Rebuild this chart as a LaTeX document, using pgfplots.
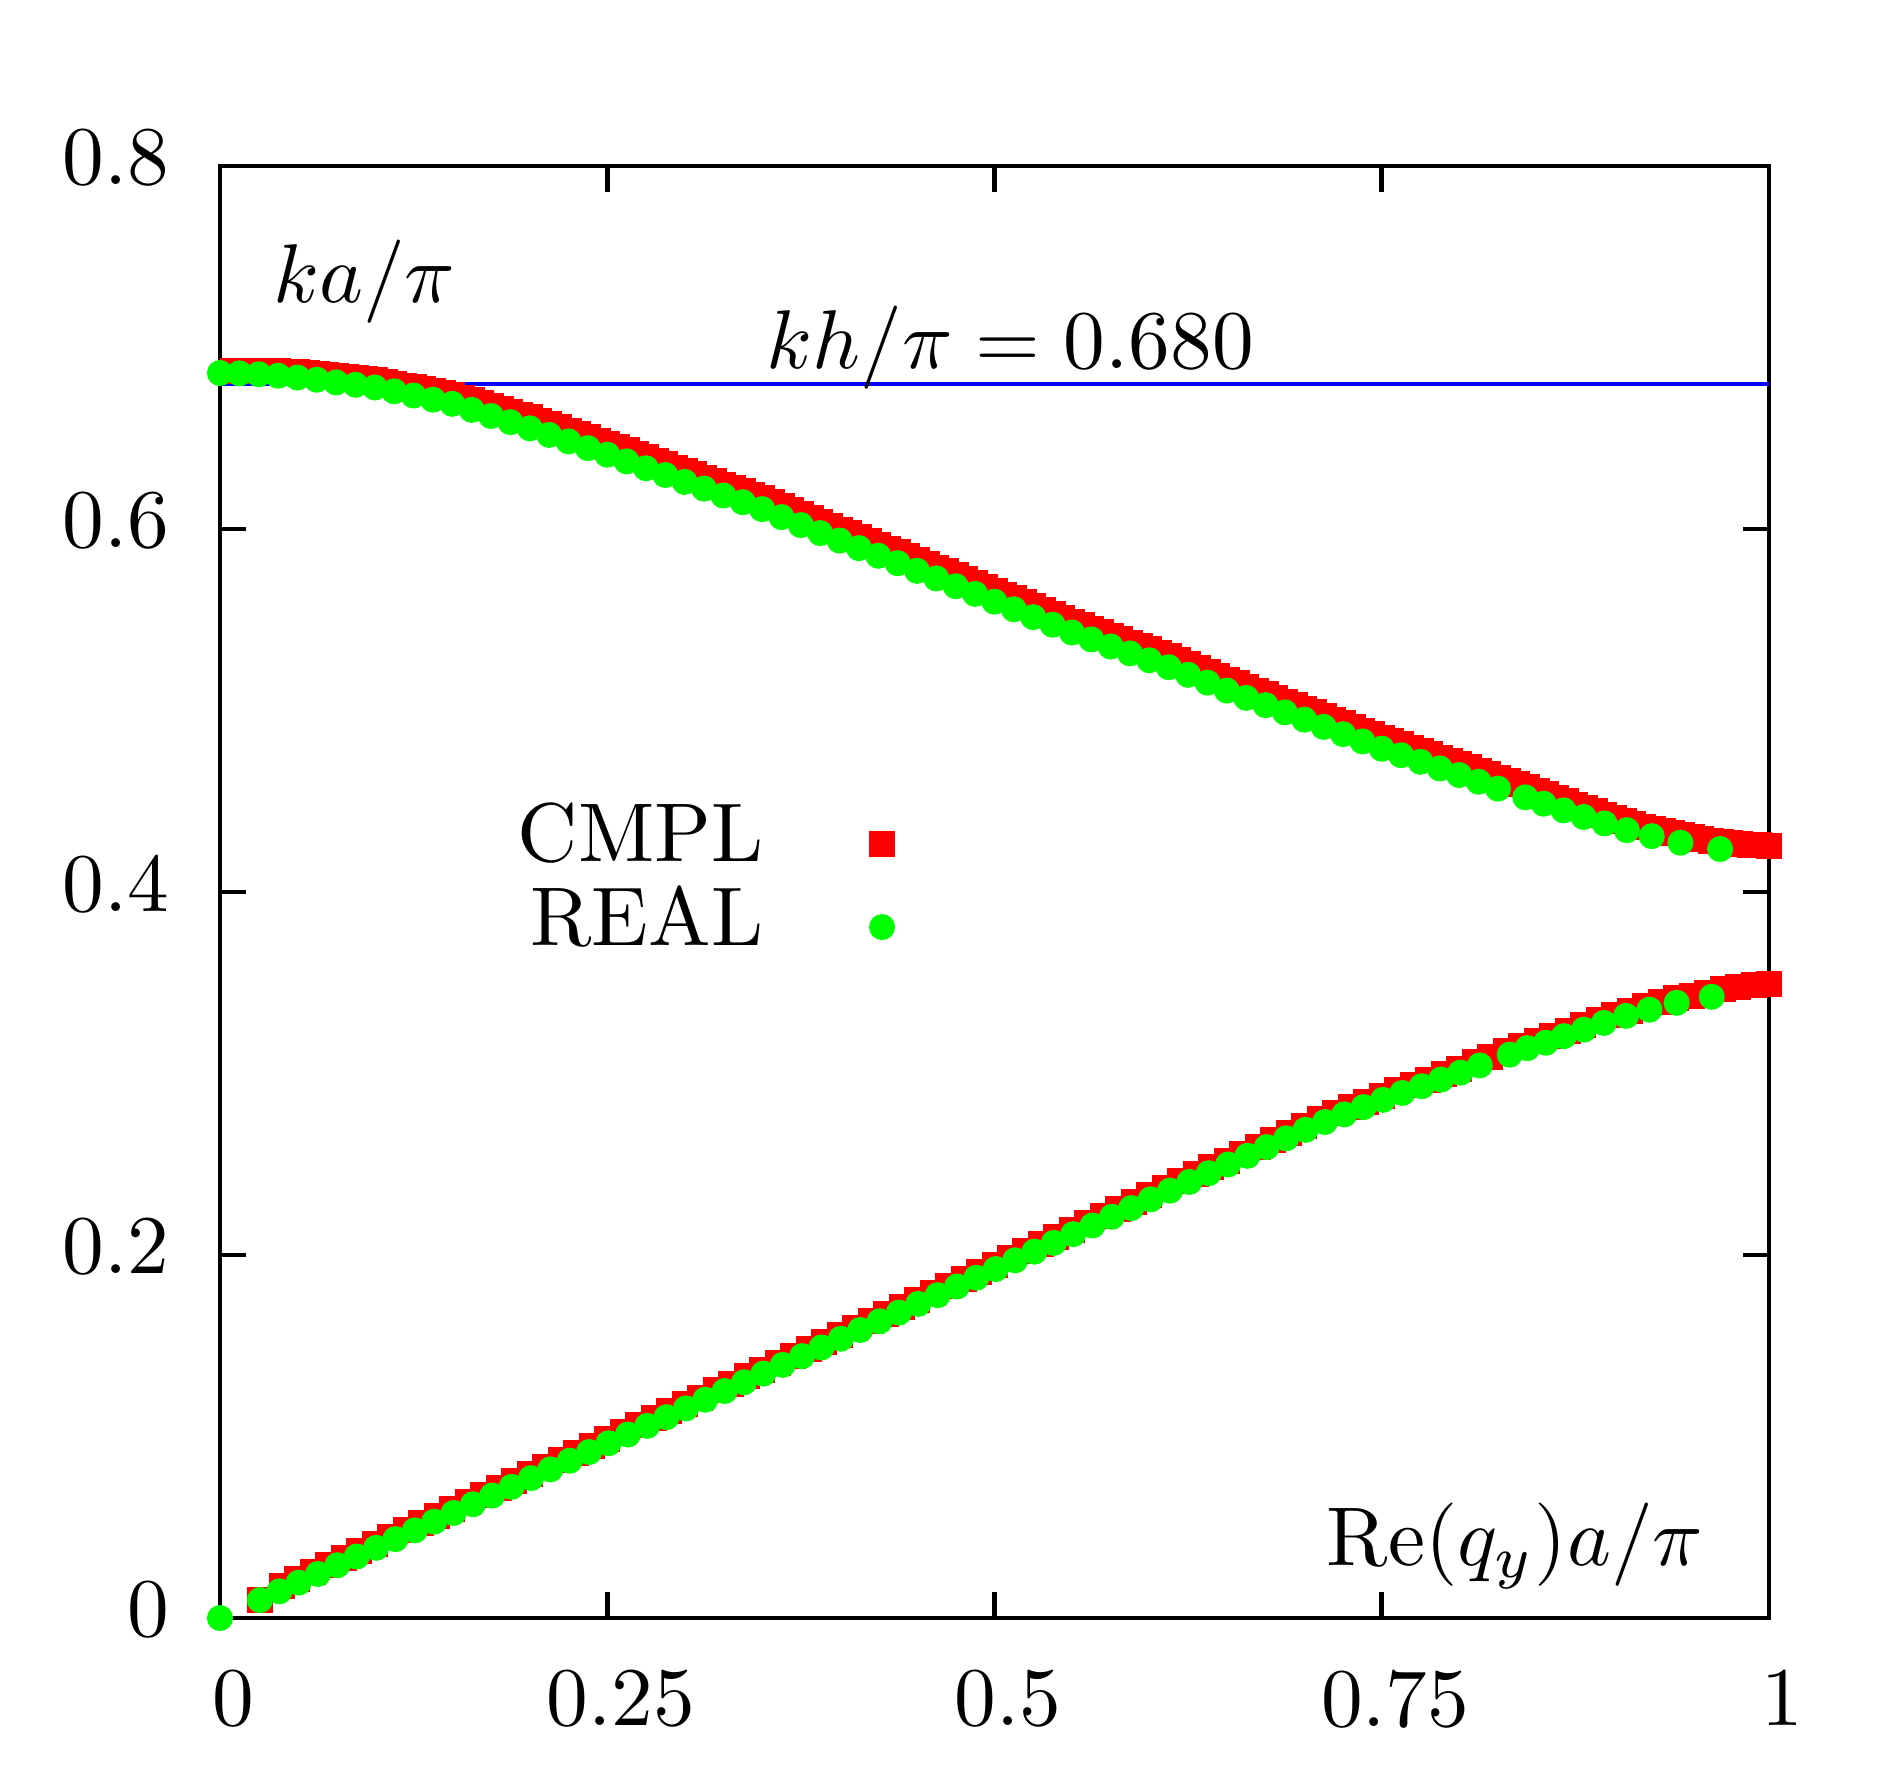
\documentclass[border=0pt]{standalone}
\usepackage{pgfplots}
\pgfplotsset{compat=1.18}
\definecolor{gpred}{RGB}{255,0,0}
\definecolor{gpgreen}{RGB}{0,255,0}
\definecolor{gpblue}{RGB}{0,0,255}
\pgfplotsset{
  redsq/.style={gpred, only marks, mark=square*, mark size=1.5pt, mark options={line width=0.12pt, draw=gpred, fill=gpred}},
  greenci/.style={gpgreen, only marks, mark=*, mark size=1.5pt, mark options={line width=0.12pt, draw=gpgreen, fill=gpgreen}},
}
\begin{document}
\begin{tikzpicture}
\begin{axis}[
  at={(0,0)}, anchor=south west,
  scale only axis, width=185.88pt, height=174.24pt,
  xmin=0, xmax=1, ymin=0, ymax=0.8,
  xtick={0,0.25,0.5,0.75,1}, ytick={0,0.2,0.4,0.6,0.8},
  xticklabels={0,0.25,0.5,0.75,1},
  yticklabels={0,0.2,0.4,0.6,0.8},
  tick align=inside, major tick length=3.1pt,
  axis line style={line width=0.56pt},
  every tick/.style={line width=0.56pt, black},
  xticklabel style={yshift=-2.7pt, xshift=1.6pt},
  yticklabel style={xshift=-2.6pt, yshift=1pt},
  clip=false,
]
% CMPL upper branch
\addplot[redsq] coordinates {
(0.0084,0.6869) (0.0125,0.6870) (0.0250,0.6871) (0.0375,0.6869) (0.0500,0.6865) (0.0625,0.6855)
(0.0750,0.6843) (0.0875,0.6832) (0.1000,0.6820) (0.1125,0.6801) (0.1250,0.6781) (0.1375,0.6760)
(0.1500,0.6740) (0.1625,0.6709) (0.1750,0.6678) (0.1875,0.6646) (0.2000,0.6615) (0.2125,0.6579)
(0.2250,0.6543) (0.2375,0.6506) (0.2500,0.6470) (0.2625,0.6433) (0.2750,0.6395) (0.2875,0.6358)
(0.3000,0.6320) (0.3125,0.6283) (0.3250,0.6245) (0.3375,0.6208) (0.3500,0.6170) (0.3625,0.6126)
(0.3750,0.6082) (0.3875,0.6038) (0.4000,0.5997) (0.4125,0.5955) (0.4250,0.5913) (0.4375,0.5872)
(0.4500,0.5830) (0.4625,0.5788) (0.4750,0.5745) (0.4875,0.5703) (0.5000,0.5660) (0.5125,0.5618)
(0.5250,0.5575) (0.5375,0.5533) (0.5500,0.5490) (0.5625,0.5452) (0.5750,0.5413) (0.5875,0.5375)
(0.6000,0.5337) (0.6125,0.5299) (0.6250,0.5257) (0.6375,0.5214) (0.6500,0.5170) (0.6625,0.5130)
(0.6750,0.5090) (0.6875,0.5050) (0.7000,0.5010) (0.7125,0.4970) (0.7250,0.4930) (0.7375,0.4890)
(0.7500,0.4850) (0.7625,0.4814) (0.7750,0.4778) (0.7875,0.4741) (0.8000,0.4705) (0.8125,0.4668)
(0.8250,0.4630) (0.8375,0.4596) (0.8500,0.4558) (0.8625,0.4519) (0.8750,0.4480) (0.8875,0.4445)
(0.9000,0.4408) (0.9125,0.4375) (0.9250,0.4345) (0.9375,0.4325) (0.9500,0.4305) (0.9625,0.4283)
(0.9750,0.4268) (0.9875,0.4259) (1.0000,0.4254)
(0.01875,0.6871) (0.03125,0.6870) (0.04375,0.6867) (0.05625,0.6860) (0.06875,0.6849) (0.08125,0.6838)
(0.09375,0.6826) (0.10625,0.6811) (0.11875,0.6791) (0.13125,0.6771) (0.14375,0.6750) (0.15625,0.6725)
(0.16875,0.6694) (0.18125,0.6662) (0.19375,0.6631) (0.20625,0.6597) (0.21875,0.6561) (0.23125,0.6525)
(0.24375,0.6488) (0.25625,0.6452) (0.26875,0.6414) (0.28125,0.6377) (0.29375,0.6339) (0.30625,0.6302)
(0.31875,0.6264) (0.33125,0.6227) (0.34375,0.6189) (0.35625,0.6148) (0.36875,0.6104) (0.38125,0.6060)
(0.39375,0.6018) (0.40625,0.5976) (0.41875,0.5934) (0.43125,0.5893) (0.44375,0.5851) (0.45625,0.5809)
(0.46875,0.5767) (0.48125,0.5724) (0.49375,0.5682) (0.50625,0.5639) (0.51875,0.5597) (0.53125,0.5554)
(0.54375,0.5512) (0.55625,0.5471) (0.56875,0.5433) (0.58125,0.5394) (0.59375,0.5356) (0.60625,0.5318)
(0.61875,0.5278) (0.63125,0.5236) (0.64375,0.5192) (0.65625,0.5150) (0.66875,0.5110) (0.68125,0.5070)
(0.69375,0.5030) (0.70625,0.4990) (0.71875,0.4950) (0.73125,0.4910) (0.74375,0.4870) (0.75625,0.4832)
(0.76875,0.4796) (0.78125,0.4760) (0.79375,0.4723) (0.80625,0.4687) (0.81875,0.4649) (0.83125,0.4613)
(0.84375,0.4577) (0.85625,0.4539) (0.86875,0.4500) (0.88125,0.4463) (0.89375,0.4427) (0.90625,0.4392)
(0.91875,0.4360) (0.93125,0.4335) (0.94375,0.4315) (0.95625,0.4294) (0.96875,0.4276) (0.98125,0.4264)
(0.99375,0.4257)
};
% CMPL lower branch
\addplot[redsq] coordinates {
(0.0258,0.0099) (0.04,0.0179) (0.05,0.0217) (0.06,0.0255) (0.07,0.0294) (0.08,0.0332) (0.09,0.0371)
(0.10,0.0409) (0.11,0.0447) (0.12,0.0486) (0.13,0.0524) (0.14,0.0563) (0.15,0.0601) (0.16,0.0639)
(0.17,0.0678) (0.18,0.0716) (0.19,0.0755) (0.20,0.0793) (0.21,0.0831) (0.22,0.0870) (0.23,0.0908)
(0.24,0.0947) (0.25,0.0985) (0.26,0.1023) (0.27,0.1062) (0.28,0.1100) (0.29,0.1139) (0.30,0.1177)
(0.31,0.1215) (0.32,0.1254) (0.33,0.1292) (0.34,0.1331) (0.35,0.1369) (0.36,0.1407) (0.37,0.1446)
(0.38,0.1484) (0.39,0.1523) (0.40,0.1561) (0.41,0.1599) (0.42,0.1638) (0.43,0.1676) (0.44,0.1715)
(0.45,0.1753) (0.46,0.1791) (0.47,0.1830) (0.48,0.1868) (0.49,0.1907) (0.50,0.1945) (0.51,0.1983)
(0.52,0.2022) (0.53,0.2060) (0.54,0.2099) (0.55,0.2137) (0.56,0.2175) (0.57,0.2214) (0.58,0.2252)
(0.59,0.2291) (0.60,0.2329) (0.61,0.2367) (0.62,0.2406) (0.63,0.2444) (0.64,0.2483) (0.65,0.2521)
(0.66,0.2559) (0.67,0.2598) (0.68,0.2635) (0.69,0.2673) (0.70,0.2712) (0.71,0.2747) (0.72,0.2781)
(0.73,0.2814) (0.74,0.2846) (0.75,0.2878) (0.76,0.2909) (0.77,0.2938) (0.78,0.2967) (0.79,0.2997)
(0.80,0.3026) (0.81,0.3065) (0.82,0.3093) (0.83,0.3122) (0.84,0.3153) (0.85,0.3180) (0.86,0.3206)
(0.87,0.3237) (0.88,0.3266) (0.89,0.3294) (0.90,0.3321) (0.91,0.3347) (0.92,0.3371) (0.93,0.3393)
(0.94,0.3414) (0.95,0.3430) (0.96,0.3444) (0.97,0.3465) (0.98,0.3478) (0.99,0.3488) (1.00,0.3496)
};
% REAL upper branch
\addplot[greenci] coordinates {
(0.0000,0.6860) (0.0125,0.6858) (0.0250,0.6853) (0.0375,0.6845) (0.0500,0.6835) (0.0625,0.6823)
(0.0750,0.6808) (0.0875,0.6795) (0.1000,0.6780) (0.1125,0.6759) (0.1250,0.6736) (0.1375,0.6713)
(0.1500,0.6690) (0.1625,0.6657) (0.1750,0.6623) (0.1875,0.6589) (0.2000,0.6555) (0.2125,0.6519)
(0.2250,0.6483) (0.2375,0.6446) (0.2500,0.6410) (0.2625,0.6373) (0.2750,0.6335) (0.2875,0.6298)
(0.3000,0.6260) (0.3125,0.6223) (0.3250,0.6185) (0.3375,0.6148) (0.3500,0.6110) (0.3625,0.6066)
(0.3750,0.6022) (0.3875,0.5978) (0.4000,0.5937) (0.4125,0.5895) (0.4250,0.5853) (0.4375,0.5812)
(0.4500,0.5770) (0.4625,0.5728) (0.4750,0.5685) (0.4875,0.5643) (0.5000,0.5600) (0.5125,0.5558)
(0.5250,0.5515) (0.5375,0.5473) (0.5500,0.5430) (0.5625,0.5392) (0.5750,0.5353) (0.5875,0.5315)
(0.6000,0.5277) (0.6125,0.5239) (0.6250,0.5197) (0.6375,0.5154) (0.6500,0.5110) (0.6625,0.5070)
(0.6750,0.5030) (0.6875,0.4990) (0.7000,0.4950) (0.7125,0.4910) (0.7250,0.4870) (0.7375,0.4830)
(0.7500,0.4790) (0.7625,0.4754) (0.7750,0.4718) (0.7875,0.4681) (0.8000,0.4645) (0.8125,0.4608)
(0.8250,0.4570) (0.8427,0.4522) (0.8545,0.4487) (0.8674,0.4450) (0.8803,0.4414) (0.8938,0.4378)
(0.9082,0.4341) (0.9243,0.4308) (0.9428,0.4272) (0.9684,0.4237)
};
% REAL lower branch
\addplot[greenci] coordinates {
(0,0)
(0.0258,0.0099) (0.0383,0.0147) (0.0508,0.0195) (0.0633,0.0243) (0.0758,0.0291) (0.0883,0.0339)
(0.1008,0.0387) (0.1133,0.0435) (0.1258,0.0483) (0.1383,0.0531) (0.1508,0.0579) (0.1633,0.0627)
(0.1758,0.0675) (0.1883,0.0723) (0.2008,0.0771) (0.2133,0.0819) (0.2258,0.0867) (0.2383,0.0915)
(0.2508,0.0963) (0.2633,0.1011) (0.2758,0.1059) (0.2883,0.1107) (0.3008,0.1155) (0.3133,0.1203)
(0.3258,0.1251) (0.3383,0.1299) (0.3508,0.1347) (0.3633,0.1395) (0.3758,0.1443) (0.3883,0.1491)
(0.4008,0.1539) (0.4133,0.1587) (0.4258,0.1635) (0.4383,0.1683) (0.4508,0.1731) (0.4633,0.1779)
(0.4758,0.1827) (0.4883,0.1875) (0.5008,0.1923) (0.5133,0.1971) (0.5258,0.2019) (0.5383,0.2067)
(0.5508,0.2115) (0.5633,0.2163) (0.5758,0.2211) (0.5883,0.2259) (0.6008,0.2307) (0.6133,0.2355)
(0.6258,0.2403) (0.6383,0.2451) (0.6508,0.2499) (0.6633,0.2547) (0.6758,0.2595) (0.6883,0.2643)
(0.7008,0.2690) (0.7133,0.2733) (0.7258,0.2775) (0.7383,0.2815) (0.7508,0.2855) (0.7633,0.2893)
(0.7758,0.2930) (0.7883,0.2967) (0.8008,0.3005) (0.8133,0.3045) (0.8326,0.3104) (0.8440,0.3140)
(0.8560,0.3170) (0.8676,0.3206) (0.8805,0.3242) (0.8934,0.3279) (0.9078,0.3318) (0.9228,0.3352)
(0.9404,0.3390) (0.9630,0.3423)
};
% kh/pi line
\addplot[gpblue, line width=0.4pt] coordinates {(0,0.680) (1,0.680)};
% legend keys
\addplot[redsq] coordinates {(0.4274,0.4266)};
\addplot[greenci] coordinates {(0.4274,0.3807)};
\node[anchor=base east, inner sep=0pt] at (axis cs:0.3518,0.4167) {CMPL};
\node[anchor=base east, inner sep=0pt] at (axis cs:0.3518,0.3704) {REAL};
\node[anchor=base west, inner sep=0pt] at (axis cs:0.0334,0.7247) {$ka/\pi$};
\node[anchor=base west, inner sep=0pt] at (axis cs:0.3518,0.6885) {$kh/\pi = 0.680$};
\node[anchor=base west, inner sep=0pt] at (axis cs:0.7134,0.0292) {$\mathrm{Re}(q_y)a/\pi$};
\end{axis}
\useasboundingbox (-26.4pt,-18.48pt) rectangle (200.4pt,194.16pt);
\end{tikzpicture}
\end{document}
